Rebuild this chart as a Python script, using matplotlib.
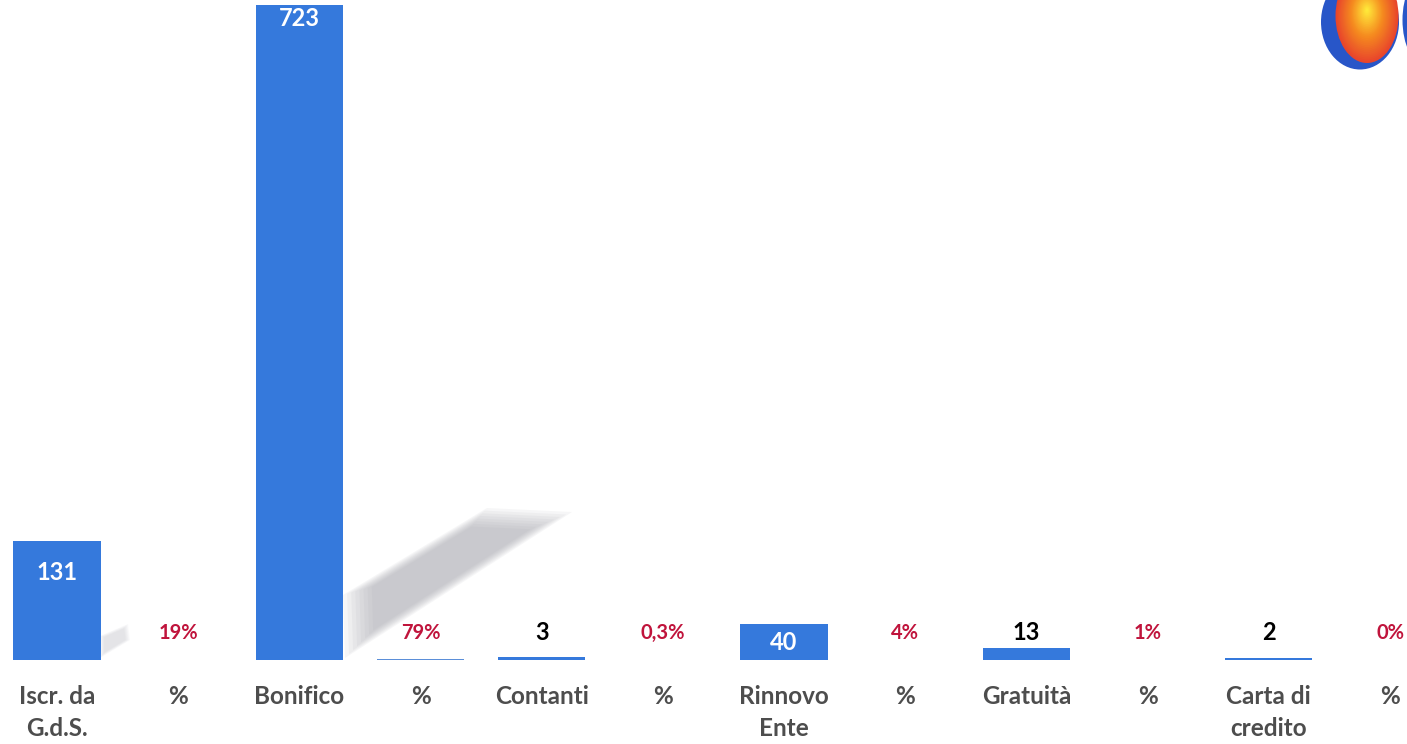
import numpy as np
import matplotlib.pyplot as plt
from matplotlib.patches import Ellipse, Polygon
from matplotlib.colors import LinearSegmentedColormap
from matplotlib.transforms import blended_transform_factory

plt.rcParams['font.family'] = ['Lato', 'DejaVu Sans']

# Data
categories = ["Iscr. da\nG.d.S.", "%", "Bonifico", "%", "Contanti", "%",
              "Rinnovo\nEnte", "%", "Gratuità", "%", "Carta di\ncredito", "%"]
values = [131, 0.19, 723, 0.79, 3, 0.003, 40, 0.04, 13, 0.01, 2, 0.0]
value_labels = ["131", "19%", "723", "79%", "3", "0,3%",
                "40", "4%", "13", "1%", "2", "0%"]

blue = '#3579DC'
red = '#C0143C'
gray = '#4D4D4D'

fig = plt.figure(figsize=(14.07, 7.44), dpi=100)

# decoration layer (shadows, logo) in pixel coordinates
deco = fig.add_axes([0, 0, 1, 1], zorder=0)
deco.set_xlim(0, 1407)
deco.set_ylim(744, 0)
deco.axis('off')


def soft_shape(pts, color, layers, alpha):
    pts = np.array(pts, dtype=float)
    c = pts.mean(axis=0)
    for k in range(layers):
        f = 1 - 0.35 * k / layers
        deco.add_patch(Polygon(c + (pts - c) * f, closed=True, color=color,
                               alpha=alpha, lw=0))


# diagonal shadow behind Bonifico
soft_shape([(343, 595), (487, 508), (572, 512), (345, 658)], '#9EA0A8', 8, 0.09)
# small shadow next to first bar
soft_shape([(100, 636), (128, 624), (130, 640), (100, 658)], '#A0A2AA', 5, 0.06)

# logo in the corner
deco.add_patch(Ellipse((1360, 22), 78, 95, color='#2856C8', lw=0))
deco.add_patch(Ellipse((1425, 20), 45, 90, color='#2856C8', lw=0))
fire = LinearSegmentedColormap.from_list('fire', ['#E8452C', '#F58A1F', '#FFE93A'])
n = 30
for k in range(n):
    f = 1 - k / n
    deco.add_patch(Ellipse((1367, 16 - (1 - f) * 6), 63 * f, 94 * f,
                           color=fire(k / (n - 1)), lw=0))

# main chart
ax = fig.add_axes([-3.6 / 1407, 84 / 744, 1454.2 / 1407, 655 / 744], zorder=1)
ax.patch.set_visible(False)
x = np.arange(len(categories))
bar_colors = [blue if i % 2 == 0 else '#5B8FD9' for i in range(len(values))]
ax.bar(x, values, width=0.72, color=bar_colors, linewidth=0)

ax.set_xlim(-0.5, len(categories) - 0.5)
ax.set_ylim(0, 723)
for s in ax.spines.values():
    s.set_visible(False)
ax.set_yticks([])
ax.set_xticks(x)
ax.set_xticklabels(categories, fontsize=17.5, fontweight='bold', color=gray,
                   linespacing=1.5, va='top')
ax.tick_params(axis='x', length=0, pad=18)

# value labels
trans = blended_transform_factory(ax.transData, ax.transAxes)
for i, (v, lab) in enumerate(zip(values, value_labels)):
    if i % 2 == 1:
        ax.text(x[i], 0.0415, lab, transform=trans, ha='center', va='center',
                fontsize=14.5, fontweight='bold', color=red)
    elif v >= 100:
        off = -13 if v > 500 else -31
        ax.annotate(lab, (x[i], v), xytext=(0, off), textcoords='offset pixels',
                    ha='center', va='center', fontsize=17, color='white',
                    fontweight='bold')
    elif v >= 30:
        ax.text(x[i], v / 2 - 1, lab, ha='center', va='center', fontsize=17,
                color='white', fontweight='bold')
    else:
        ax.text(x[i], 0.042, lab, transform=trans, ha='center', va='center',
                fontsize=17, fontweight='bold', color='black')

plt.savefig("out.png", dpi=100)
